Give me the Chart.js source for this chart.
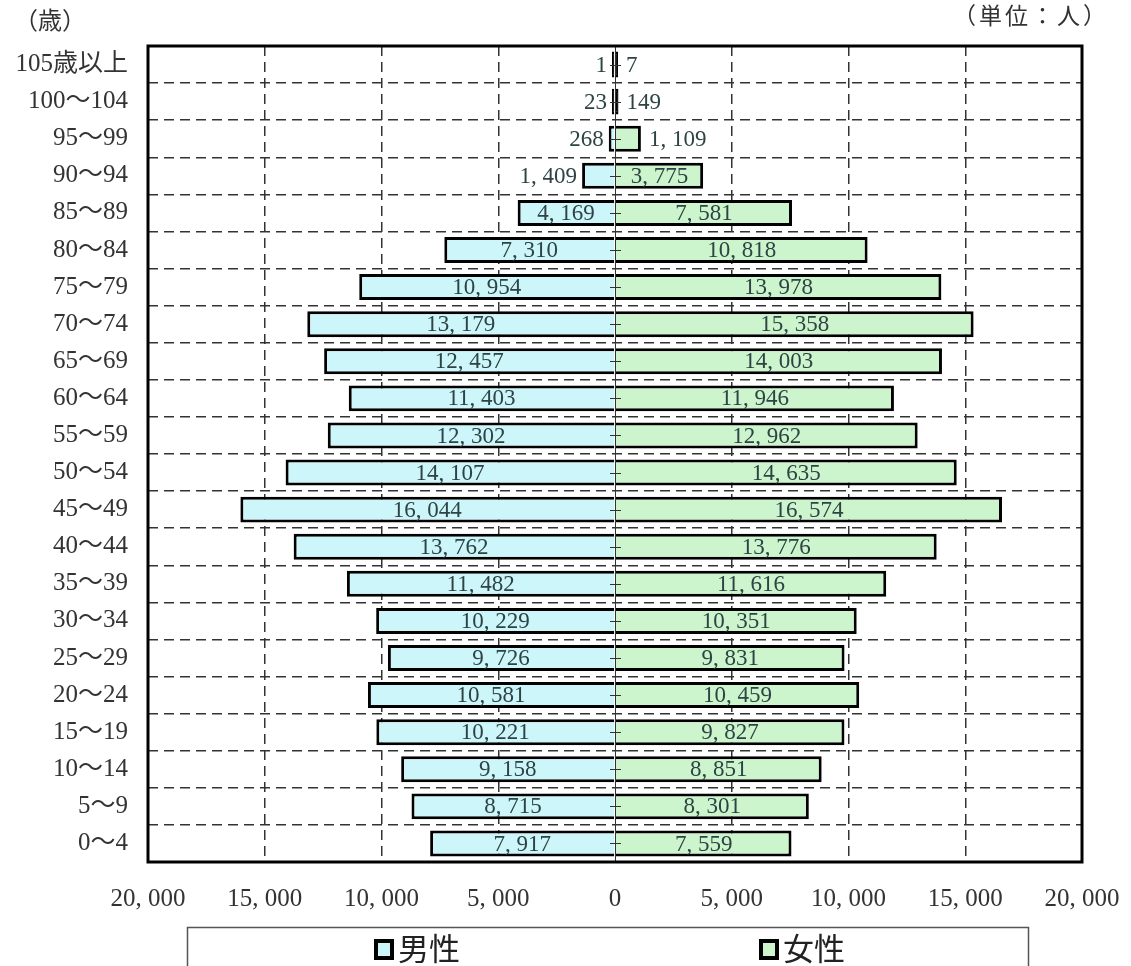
<!DOCTYPE html>
<html><head><meta charset="utf-8">
<script src="https://cdn.jsdelivr.net/npm/chart.js@4/dist/chart.umd.min.js"></script>
<style>html,body{margin:0;padding:0;background:#fff}#wrap{width:1131px;height:966px;position:relative}</style>
</head><body><div id="wrap"><canvas id="c" width="1131" height="966"></canvas></div>
<script>
// Population pyramid by five-year age group
const ageGroups = ['105歳以上','100〜104','95〜99','90〜94','85〜89','80〜84','75〜79','70〜74','65〜69','60〜64','55〜59','50〜54','45〜49','40〜44','35〜39','30〜34','25〜29','20〜24','15〜19','10〜14','5〜9','0〜4'];
const maleCounts = [1,23,268,1409,4169,7310,10954,13179,12457,11403,12302,14107,16044,13762,11482,10229,9726,10581,10221,9158,8715,7917];
const femaleCounts = [7,149,1109,3775,7581,10818,13978,15358,14003,11946,12962,14635,16574,13776,11616,10351,9831,10459,9827,8851,8301,7559];
const axisTickValues = [-20000,-15000,-10000,-5000,0,5000,10000,15000,20000];
const seriesNames = ['男性','女性'];

const SERIF = "'Liberation Serif','Noto Sans CJK JP',serif";
const JP = "'Noto Sans CJK JP',sans-serif";
const MALE_FILL = '#cdf6fb';
const FEMALE_FILL = '#cdf5cd';

function fmt(v){
  const s = Math.abs(v).toString();
  return s.replace(/\B(?=(\d{3})+(?!\d))/g, ', ');
}
// bars too thin to show a fill are drawn solid black, like their outline
const fillFor = base => c => Math.abs(c.raw) < 200 ? '#000' : base;

const decorations = {
  id:'decorations',
  afterDatasetsDraw(chart){
    const {ctx, chartArea:a, scales:{x,y}} = chart;
    const x0 = x.getPixelForValue(0);
    ctx.save();
    // centre axis with small ticks at each row
    ctx.strokeStyle = '#333';
    ctx.lineWidth = 1;
    ctx.beginPath();
    ctx.moveTo(x0+0.5, a.top); ctx.lineTo(x0+0.5, a.bottom);
    ageGroups.forEach((g,i)=>{
      const yc = Math.round(y.getPixelForValue(i))+0.5;
      ctx.moveTo(x0-5, yc); ctx.lineTo(x0+6, yc);
    });
    ctx.stroke();
    // value labels
    ctx.font = '23px ' + SERIF;
    ctx.fillStyle = '#2e4343';
    ctx.textBaseline = 'middle';
    chart.data.datasets.forEach((ds,di)=>{
      const meta = chart.getDatasetMeta(di);
      meta.data.forEach((el,i)=>{
        const txt = fmt(ds.data[i]);
        const w = ctx.measureText(txt).width;
        const bw = Math.abs(el.x - el.base);
        if (bw > w + 10){
          ctx.textAlign = 'center';
          ctx.fillText(txt, (el.x + el.base)/2, el.y + 1);
        } else if (di === 0){
          ctx.textAlign = 'right';
          ctx.fillText(txt, Math.min(el.x, x0 - 2) - 5, el.y + 1);
        } else {
          ctx.textAlign = 'left';
          ctx.fillText(txt, Math.max(el.x, x0 + 2) + 8, el.y + 1);
        }
      });
    });
    // plot frame
    ctx.strokeStyle = '#000';
    ctx.lineWidth = 3;
    ctx.strokeRect(a.left, a.top, a.right - a.left, a.bottom - a.top);
    ctx.restore();
  },
  afterDraw(chart){
    const {ctx} = chart;
    ctx.save();
    ctx.fillStyle = '#333';
    ctx.textBaseline = 'middle';
    ctx.font = '24px ' + SERIF;
    ctx.textAlign = 'left';
    ctx.fillText('（歳）', 14, 23);
    ctx.font = '23px ' + SERIF;
    ctx.textAlign = 'right';
    ctx.letterSpacing = '3px';
    ctx.fillText('（単位：人）', 1109, 18);
    ctx.letterSpacing = '0px';
    // legend box
    ctx.strokeStyle = '#555';
    ctx.lineWidth = 1.5;
    ctx.strokeRect(187.5, 927.5, 841, 60);
    const items = [{cx:376, fill:MALE_FILL},{cx:761, fill:FEMALE_FILL}];
    items.forEach((it,i)=>{
      ctx.fillStyle = it.fill;
      ctx.fillRect(it.cx, 941, 16, 17);
      ctx.strokeStyle = '#000';
      ctx.lineWidth = 4;
      ctx.strokeRect(it.cx, 941, 16, 17);
      ctx.fillStyle = '#222';
      ctx.font = '31px ' + JP;
      ctx.textAlign = 'left';
      ctx.fillText(seriesNames[i], it.cx + 22, 948);
    });
    ctx.restore();
  }
};

new Chart(document.getElementById('c'), {
  type:'bar',
  data:{
    labels: ageGroups,
    datasets:[
      {label:seriesNames[0], data: maleCounts.map(v=>-v), backgroundColor:fillFor(MALE_FILL), borderColor:'#000', borderWidth:3, borderSkipped:'start', barPercentage:0.7, categoryPercentage:1, minBarLength:3},
      {label:seriesNames[1], data: femaleCounts, backgroundColor:fillFor(FEMALE_FILL), borderColor:'#000', borderWidth:3, borderSkipped:'start', barPercentage:0.7, categoryPercentage:1, minBarLength:3}
    ]
  },
  options:{
    indexAxis:'y',
    responsive:false,
    animation:false,
    layout:{padding:{top:46,right:49,bottom:44,left:0}},
    plugins:{legend:{display:false}, tooltip:{enabled:false}},
    scales:{
      x:{
        stacked:true, min:-20000, max:20000,
        afterBuildTicks:s=>{ s.ticks = axisTickValues.map(v=>({value:v})); },
        afterFit:s=>{ s.height = 60; s.paddingLeft = 0; s.paddingRight = 0; },
        ticks:{callback:v=>fmt(v), font:{family:SERIF,size:25}, color:'#333', padding:22, maxRotation:0, autoSkip:false},
        grid:{color:c=> (c.tick && (c.tick.value===0 || Math.abs(c.tick.value)===20000)) ? 'rgba(0,0,0,0)' : '#333', lineWidth:1.5, drawTicks:false},
        border:{display:false, dash:[10,6]}
      },
      y:{
        stacked:true,
        afterFit:s=>{ s.width = 148; s.paddingTop = 0; s.paddingBottom = 0; },
        ticks:{font:{family:SERIF,size:25}, color:'#333', padding:20, autoSkip:false},
        grid:{color:'#333', lineWidth:1.5, drawTicks:false, offset:true},
        border:{display:false, dash:[10,6]}
      }
    }
  },
  plugins:[decorations]
});
</script>
</body></html>
